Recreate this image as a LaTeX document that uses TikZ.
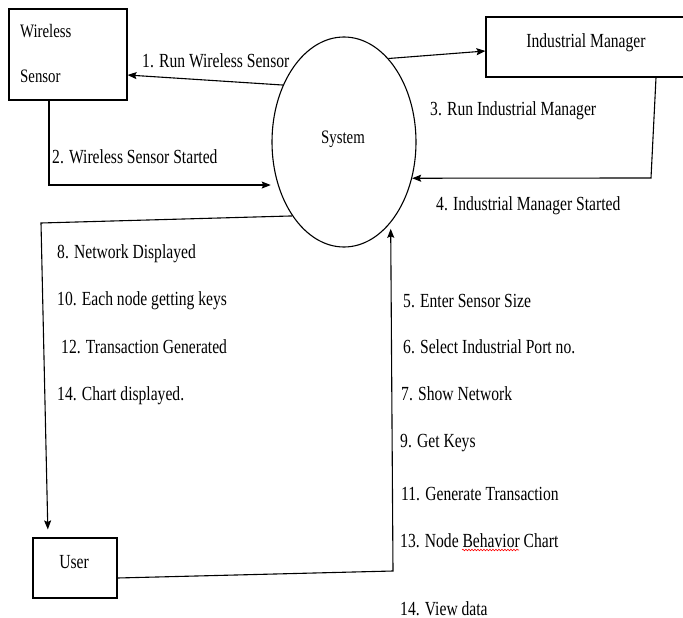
\documentclass[tikz,border=0pt]{standalone}
\usepackage{fontspec}
\setmainfont{Liberation Serif}
\usetikzlibrary{arrows.meta,shapes.geometric,decorations.pathmorphing}
% narrow setting of the captions
\newcommand{\narrowtxt}[1]{\scalebox{0.78}[1]{#1}}
\begin{document}
\begin{tikzpicture}[x=1pt,y=-1pt,
  flow/.style={line width=1.1pt,-{Stealth[length=9pt,width=7pt,inset=1.5pt]}},
  entity/.style={draw,line width=1.1pt,inner sep=0pt},
  lbl/.style={anchor=base west,inner sep=0pt,font=\fontsize{20}{24}\selectfont},
  etext/.style={anchor=base,inner sep=0pt,font=\fontsize{19}{23}\selectfont}]
\useasboundingbox (0,0) rectangle (683,618);

% external entities and the process
\node[entity,minimum width=118pt,minimum height=91pt] (ws) at (68,54.5) {};
\node[etext,anchor=base west] (wsa) at (20,38) {\narrowtxt{Wireless}};
\node[etext,anchor=base west] (wsb) at (20,83) {\narrowtxt{Sensor}};

\node[entity,minimum width=204pt,minimum height=60pt] (im) at (588,47) {};
\node[etext,font=\fontsize{20}{24}\selectfont] (imt) at (586,48) {\narrowtxt{Industrial Manager}};

\node[entity,minimum width=84pt,minimum height=60pt] (user) at (75,568) {};
\node[etext,font=\fontsize{20}{24}\selectfont] (usert) at (74,568) {\narrowtxt{User}};

\node[entity,ellipse,minimum width=144pt,minimum height=210pt] (sys) at (344,142) {};
\node[etext] (syst) at (343,143) {\narrowtxt{System}};

% bend points
\coordinate (imbend) at (651,178);
\coordinate (ubend) at (41,223);
\coordinate (sbend) at (393,571);

% data flows
\draw[flow] (sys.137) -- (ws.east |- 0,75);
\draw[flow,shorten >=7pt] (ws.south -| 49,0) |- (sys.213);
\draw[flow] (sys.62) -- (im.west |- 0,51);
\draw[flow] (im.south -| 656,0) -- (imbend) -- (sys.-28);
\draw[flow,shorten >=8pt] (sys.235) -- (ubend) -- (user.north -| 48,0);
\draw[flow,shorten >=6pt] ([yshift=-10pt]user.east) -- (sbend) -- (sys.-60);

% flow labels
\node[lbl] (l1) at (142,67) {\narrowtxt{1. Run Wireless Sensor}};
\node[lbl] (l2) at (52,163) {\narrowtxt{2. Wireless Sensor Started}};
\node[lbl] (l3) at (430,115) {\narrowtxt{3. Run Industrial Manager}};
\node[lbl] (l4) at (436,210) {\narrowtxt{4. Industrial Manager Started}};

\node[lbl] (l8) at (57,258) {\narrowtxt{8. Network Displayed}};
\node[lbl] (l10) at (57,305) {\narrowtxt{10. Each node getting keys}};
\node[lbl] (l12) at (61,353) {\narrowtxt{12. Transaction Generated}};
\node[lbl] (l14a) at (57,400) {\narrowtxt{14. Chart displayed.}};

\node[lbl] (l5) at (403,307) {\narrowtxt{5. Enter Sensor Size}};
\node[lbl] (l6) at (403,353) {\narrowtxt{6. Select Industrial Port no.}};
\node[lbl] (l7) at (401,400) {\narrowtxt{7. Show Network}};
\node[lbl] (l9) at (400,447) {\narrowtxt{9. Get Keys}};
\node[lbl] (l11) at (401,500) {\narrowtxt{11. Generate Transaction}};
\node[lbl] (l13) at (400,547) {\narrowtxt{13. Node Behavior Chart}};
\node[lbl] (l14b) at (400,615) {\narrowtxt{14. View data}};

% spelling mark under "Behavior"
\draw[red,line width=0.6pt,decorate,decoration={snake,amplitude=0.8pt,segment length=3pt}]
  (462,550) -- (519,550);
\end{tikzpicture}
\end{document}
